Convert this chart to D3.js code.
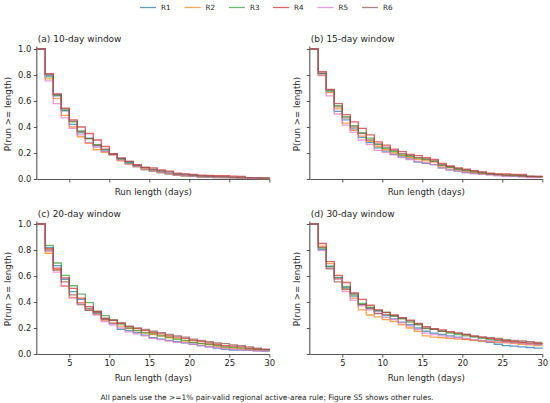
<!DOCTYPE html>
<html><head><meta charset="utf-8">
<script src="https://cdn.jsdelivr.net/npm/d3@7"></script>
<style>
html,body{margin:0;padding:0;background:#fff;}
svg{display:block;font-family:"DejaVu Sans",sans-serif;}
</style></head>
<body>
<svg id="chart" width="550" height="403"></svg>
<script>
// Run lengths 1..30
const runLengths = d3.range(1, 31);
const seriesNames = ["R1", "R2", "R3", "R4", "R5", "R6"];
const seriesColors = ["#1f77b4", "#ff7f0e", "#2ca02c", "#d62728", "#e377c2", "#8c564b"];
const panelTitles = ["(a) 10-day window", "(b) 15-day window", "(c) 20-day window", "(d) 30-day window"];
const xTicks = [5, 10, 15, 20, 25, 30];
const yTicks = [0, 0.2, 0.4, 0.6, 0.8, 1.0];

// (a) 10-day window
const w10_R1 = [1,.795,.64,.525,.42,.355,.315,.255,.215,.19,.155,.125,.10,.085,.07,.055,.045,.035,.03,.025,.02,.02,.015,.015,.012,.01,.008,.006,.005,.005];
const w10_R2 = [1,.77,.62,.49,.40,.325,.275,.225,.205,.185,.14,.115,.095,.08,.065,.05,.04,.03,.025,.02,.018,.015,.012,.01,.01,.008,.006,.005,.004,.004];
const w10_R3 = [1,.785,.645,.53,.44,.37,.31,.265,.225,.19,.15,.12,.095,.07,.06,.05,.04,.03,.025,.02,.015,.012,.01,.01,.008,.007,.006,.005,.004,.003];
const w10_R4 = [1,.81,.655,.545,.455,.40,.35,.30,.25,.195,.16,.135,.11,.09,.085,.07,.06,.045,.04,.035,.03,.028,.025,.025,.022,.02,.01,.008,.006,.005];
const w10_R5 = [1,.755,.58,.47,.39,.34,.28,.245,.21,.185,.145,.115,.095,.075,.06,.05,.04,.03,.025,.02,.015,.012,.01,.01,.008,.006,.005,.004,.003,.003];
const w10_R6 = [1,.805,.65,.54,.445,.365,.31,.26,.23,.19,.16,.135,.105,.09,.075,.065,.055,.04,.035,.03,.025,.022,.02,.018,.015,.012,.01,.008,.006,.005];

// (b) 15-day window
const w15_R1 = [1,.81,.67,.52,.455,.385,.32,.28,.24,.215,.19,.17,.155,.13,.12,.11,.085,.07,.06,.05,.045,.04,.035,.03,.025,.02,.02,.015,.015,.015];
const w15_R2 = [1,.795,.665,.54,.43,.375,.33,.29,.25,.225,.20,.18,.165,.15,.14,.13,.10,.085,.07,.06,.05,.045,.04,.035,.03,.03,.025,.02,.015,.01];
const w15_R3 = [1,.81,.68,.565,.48,.41,.355,.315,.265,.235,.21,.185,.175,.16,.15,.135,.105,.09,.075,.065,.055,.045,.04,.03,.03,.025,.025,.02,.015,.015];
const w15_R4 = [1,.825,.69,.58,.495,.44,.39,.34,.285,.26,.23,.21,.19,.18,.165,.15,.12,.10,.085,.075,.065,.055,.045,.04,.04,.035,.035,.02,.02,.02];
const w15_R5 = [1,.80,.64,.50,.415,.36,.30,.265,.22,.205,.185,.165,.15,.135,.125,.11,.085,.07,.06,.05,.04,.035,.03,.025,.02,.02,.015,.01,.01,.01];
const w15_R6 = [1,.815,.685,.555,.47,.40,.35,.30,.27,.245,.22,.195,.18,.165,.155,.14,.11,.095,.08,.07,.06,.05,.04,.035,.03,.03,.025,.02,.02,.015];

// (c) 20-day window
const w20_R1 = [1,.82,.68,.575,.48,.42,.35,.31,.265,.235,.19,.18,.165,.145,.125,.115,.105,.095,.085,.075,.065,.055,.045,.035,.03,.03,.028,.025,.022,.02];
const w20_R2 = [1,.775,.65,.52,.435,.395,.345,.305,.26,.24,.215,.195,.18,.16,.15,.14,.125,.115,.10,.09,.08,.07,.06,.05,.045,.04,.035,.03,.028,.025];
const w20_R3 = [1,.835,.70,.605,.525,.46,.395,.33,.295,.26,.23,.20,.18,.165,.155,.14,.13,.115,.105,.09,.08,.075,.065,.055,.05,.045,.04,.035,.03,.025];
const w20_R4 = [1,.81,.66,.585,.505,.43,.365,.325,.27,.26,.235,.21,.195,.18,.165,.155,.14,.13,.12,.105,.095,.085,.075,.065,.06,.055,.045,.04,.035,.03];
const w20_R5 = [1,.79,.63,.525,.43,.39,.335,.30,.25,.225,.20,.17,.155,.14,.12,.11,.10,.09,.085,.075,.065,.055,.05,.04,.035,.03,.03,.025,.025,.02];
const w20_R6 = [1,.80,.645,.555,.455,.38,.335,.32,.275,.26,.24,.215,.20,.19,.175,.165,.15,.14,.13,.115,.105,.095,.085,.08,.07,.065,.055,.045,.035,.03];

// (d) 30-day window
const w30_R1 = [1,.805,.675,.59,.51,.445,.38,.355,.33,.295,.27,.245,.225,.20,.175,.16,.15,.14,.13,.115,.105,.10,.09,.075,.065,.06,.055,.05,.045,.04];
const w30_R2 = [1,.83,.695,.58,.495,.43,.34,.30,.285,.265,.25,.225,.20,.175,.14,.13,.125,.12,.115,.11,.105,.10,.095,.09,.085,.08,.075,.07,.065,.065];
const w30_R3 = [1,.815,.67,.585,.52,.455,.39,.36,.335,.32,.29,.27,.245,.225,.195,.19,.175,.16,.15,.14,.13,.12,.11,.105,.10,.09,.085,.08,.075,.075];
const w30_R4 = [1,.85,.71,.605,.55,.47,.42,.375,.34,.32,.30,.28,.26,.235,.21,.195,.185,.17,.16,.15,.14,.13,.12,.11,.10,.095,.09,.085,.08,.075];
const w30_R5 = [1,.795,.66,.575,.48,.415,.37,.34,.315,.28,.265,.24,.215,.19,.16,.15,.14,.13,.125,.12,.11,.105,.10,.095,.09,.085,.08,.075,.07,.065];
const w30_R6 = [1,.82,.655,.555,.50,.465,.38,.35,.31,.305,.295,.275,.255,.23,.20,.19,.175,.17,.16,.15,.135,.13,.125,.12,.11,.105,.10,.095,.09,.09];

const panelData = [
  [w10_R1, w10_R2, w10_R3, w10_R4, w10_R5, w10_R6],
  [w15_R1, w15_R2, w15_R3, w15_R4, w15_R5, w15_R6],
  [w20_R1, w20_R2, w20_R3, w20_R4, w20_R5, w20_R6],
  [w30_R1, w30_R2, w30_R3, w30_R4, w30_R5, w30_R6]
];

const svg = d3.select("#chart");
const axisColor = "#555";
const textColor = "#262626";

// panel geometry
const colLeft = [37.3, 310.3];
const panelW = 232;
const rowBottom = [179, 354];
const unitH = 130; // pixels per 1.0

panelData.forEach((series, i) => {
  const col = i % 2, row = Math.floor(i / 2);
  const x0 = colLeft[col], yb = rowBottom[row];
  const x = d3.scaleLinear().domain([1, 30]).range([x0, x0 + panelW]);
  const y = d3.scaleLinear().domain([0, 1.02]).range([yb, yb - unitH * 1.02]);
  const g = svg.append("g");

  const xa = d3.axisBottom(x).tickValues(xTicks).tickSize(3.5).tickPadding(2.5)
    .tickFormat(row === 1 ? d3.format("d") : () => "");
  const gx = g.append("g").attr("transform", `translate(0,${yb})`).call(xa);
  const ya = d3.axisLeft(y).tickValues(yTicks).tickSize(3.5).tickPadding(2.5)
    .tickFormat(col === 0 ? d3.format(".1f") : () => "");
  const gy = g.append("g").attr("transform", `translate(${x0},0)`).call(ya);
  [gx, gy].forEach(a => {
    a.select(".domain").attr("stroke", axisColor).attr("stroke-width", 1.1);
    a.selectAll(".tick line").attr("stroke", axisColor).attr("stroke-width", 1);
    a.selectAll(".tick text").attr("fill", textColor).attr("font-size", 8.4)
      .attr("font-family", "DejaVu Sans");
  });
  gx.select(".domain").attr("d", `M${x0},0.5H${x0 + panelW}`);
  gy.select(".domain").attr("d", `M-0.5,${y(1.02)}V${yb}`);

  const line = d3.line().x((d, k) => x(runLengths[k])).y(d => y(d)).curve(d3.curveStepAfter);
  series.forEach((vals, s) => {
    g.append("path").datum(vals).attr("d", line)
      .attr("fill", "none").attr("stroke", seriesColors[s])
      .attr("stroke-width", 1.3).attr("stroke-opacity", 0.72);
  });

  g.append("text").attr("x", x0 + 0.5).attr("y", yb - 137.5).text(panelTitles[i])
    .attr("font-size", 9).attr("fill", textColor);
  g.append("text").attr("x", x0 + panelW / 2).attr("y", yb + (row === 1 ? 27 : 16))
    .attr("text-anchor", "middle").text("Run length (days)")
    .attr("font-size", 8.7).attr("fill", textColor);
  g.append("text").attr("transform", `translate(${x0 - (col === 0 ? 26.5 : 10)},${yb - 65}) rotate(-90)`)
    .attr("text-anchor", "middle").text("P(run >= length)")
    .attr("font-size", 8.7).attr("fill", textColor);
});

// legend
const legendX = [161, 205.5, 250, 294, 338.5, 383];
const lg = svg.append("g");
seriesNames.forEach((n, s) => {
  lg.append("line").attr("x1", legendX[s] - 21).attr("x2", legendX[s] - 5)
    .attr("y1", 7.5).attr("y2", 7.5).attr("stroke", seriesColors[s])
    .attr("stroke-width", 1.3).attr("stroke-opacity", 0.72);
  lg.append("text").attr("x", legendX[s]).attr("y", 10).text(n)
    .attr("font-size", 7.2).attr("fill", textColor);
});

// footnote
svg.append("text").attr("x", 267).attr("y", 399.5).attr("text-anchor", "middle")
  .text("All panels use the >=1% pair-valid regional active-area rule; Figure S5 shows other rules.")
  .attr("font-size", 7.45).attr("fill", textColor);
</script>
</body></html>
